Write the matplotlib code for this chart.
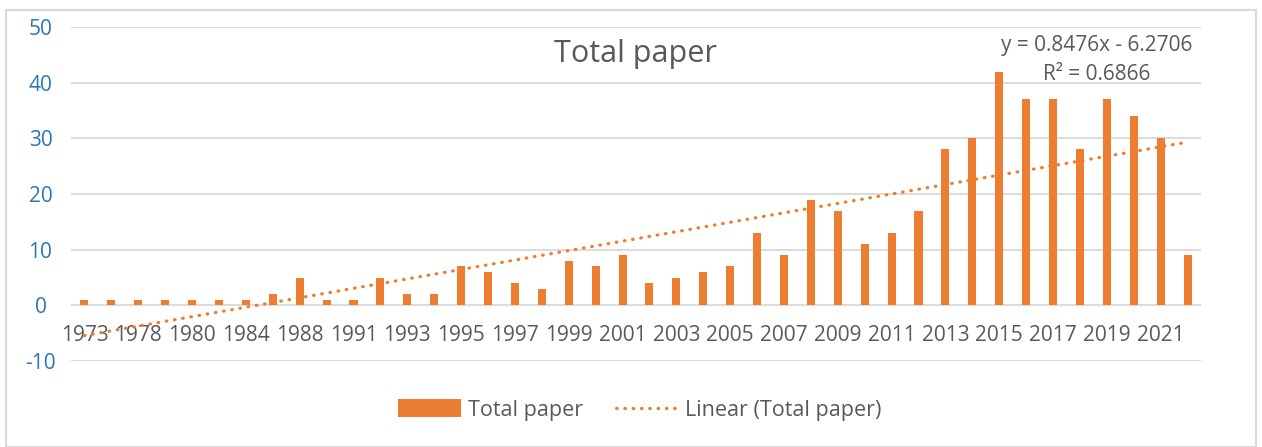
import numpy as np
from matplotlib import pyplot as plt
from matplotlib.patches import Rectangle

years = ["1973", "1977", "1978", "1979", "1980", "1982", "1984", "1986", "1988", "1990",
         "1991", "1992"] + [str(y) for y in range(1993, 2023)]
papers = [1, 1, 1, 1, 1, 1, 1, 2, 5, 1, 1, 5, 2, 2, 7, 6, 4, 3, 8, 7, 9, 4, 5, 6, 7,
          13, 9, 19, 17, 11, 13, 17, 28, 30, 42, 37, 37, 28, 37, 34, 30, 9]
eq_text = "y = 0.8476x - 6.2706"
r2_text = "R² = 0.6866"

ORANGE = "#ED7D31"
GREY = "#595959"
BLUE = "#2E75B6"
plt.rcParams['font.family'] = ['Open Sans', 'DejaVu Sans']
plt.rcParams['axes.unicode_minus'] = False

fig = plt.figure(figsize=(12.62, 4.47), dpi=100)
ax = fig.add_axes([71 / 1262, 1 - 361 / 447, 1130 / 1262, 334 / 447])

x = np.arange(len(papers))
bars = ax.bar(x, papers, width=0.3, color=ORANGE, zorder=3)

# linear trend (x counted from 1 like Excel)
slope, icpt = np.polyfit(x + 1, papers, 1)
trend, = ax.plot(x, slope * (x + 1) + icpt, color=ORANGE, linestyle=(0, (0.2, 2.4)),
                 lw=2.3, zorder=4, dash_capstyle='round')

ax.set_xlim(-0.5, len(papers) - 0.5)
ax.set_ylim(-10, 50)
ax.set_yticks(range(-10, 51, 10))
ax.tick_params(axis='y', length=0, labelsize=15, labelcolor=BLUE, pad=22)
for lab in ax.get_yticklabels():
    lab.set_horizontalalignment('center')
ax.set_xticks([])
ax.grid(axis='y', color="#D9D9D9", lw=1.3, zorder=0)
for s in ax.spines.values():
    s.set_visible(False)

for i in range(0, len(years), 2):
    ax.text(i, -5.5, years[i], ha='center', va='center', fontsize=15, color=GREY)

ax.text(635 / 1262, 1 - 54 / 447, "Total paper", transform=fig.transFigure, ha='center',
        va='center', fontsize=22, color=GREY)
ax.text(1097 / 1262, 1 - 46 / 447, eq_text, transform=fig.transFigure, ha='center',
        va='center', fontsize=15, color=GREY)
ax.text(1097 / 1262, 1 - 74 / 447, r2_text, transform=fig.transFigure, ha='center',
        va='center', fontsize=15, color=GREY)

leg = fig.legend([bars, trend], ["Total paper", "Linear (Total paper)"], loc='center',
                 bbox_to_anchor=(640 / 1262, 1 - 410 / 447), ncol=2,
                 frameon=False, fontsize=15.5, handlelength=2.9, handleheight=0.9,
                 columnspacing=1.5, handletextpad=0.35)
for t in leg.get_texts():
    t.set_color(GREY)

fig.patches.append(Rectangle((6 / 1262, 0), 1250 / 1262, 1 - 10 / 447,
                             transform=fig.transFigure, fill=False,
                             edgecolor="#D9D9D9", lw=1.5))

fig.savefig("out.png", dpi=100)
